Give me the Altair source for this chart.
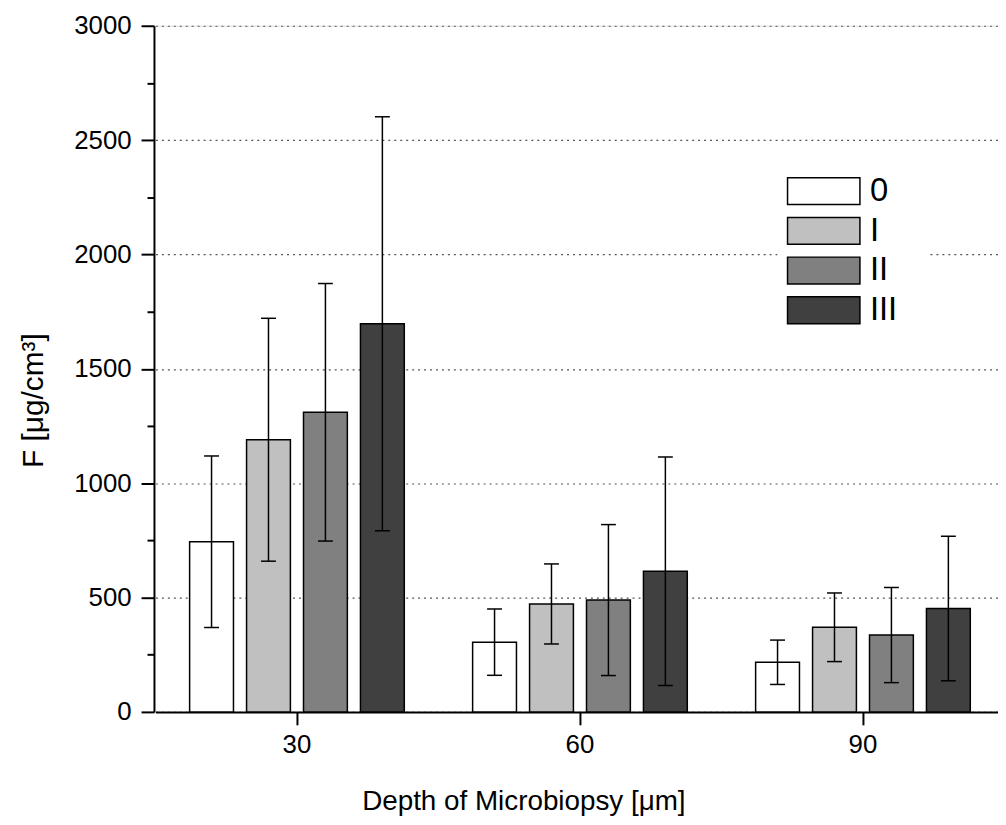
import altair as alt
import pandas as pd

depths = ["30", "60", "90"]
groups = ["0", "I", "II", "III"]
colors = ["#ffffff", "#c0c0c0", "#808080", "#404040"]

mean_0 = [744, 305, 217]
mean_I = [1190, 472, 370]
mean_II = [1310, 489, 336]
mean_III = [1697, 615, 452]

sd_0 = [375, 145, 97]
sd_I = [531, 175, 150]
sd_II = [563, 330, 208]
sd_III = [905, 500, 316]

y_ticks = list(range(0, 3001, 250))

means = [mean_0, mean_I, mean_II, mean_III]
sds = [sd_0, sd_I, sd_II, sd_III]
rows = []
for g, m, s in zip(groups, means, sds):
    for d, mv, sv in zip(depths, m, s):
        rows.append({"depth": d, "group": g, "mean": mv, "lo": mv - sv, "hi": mv + sv})
df = pd.DataFrame(rows)

FONT = "Liberation Sans"
minor = "datum.value % 500 != 0"

x_enc = alt.X(
    "depth:N",
    scale=alt.Scale(domain=depths, paddingInner=0, paddingOuter=0, range=[1.5, 856.5]),
    axis=alt.Axis(
        title="Depth of Microbiopsy [μm]",
        labelAngle=0,
        labelFontSize=26,
        labelFont=FONT,
        labelColor="black",
        labelPadding=7,
        tickSize=13,
        tickWidth=2,
        tickColor="black",
        domainColor="black",
        domainWidth=2,
        titleFontSize=28,
        titleFont=FONT,
        titleFontWeight="normal",
        titleColor="black",
        titleX=372,
        titleY=98,
        titleAlign="center",
        titleBaseline="alphabetic",
        grid=False,
    ),
)
xo_enc = alt.XOffset(
    "group:N", scale=alt.Scale(domain=groups, paddingInner=0.23, paddingOuter=0.6)
)

y_axis = alt.Axis(
    title="F [μg/cm³]",
    values=y_ticks,
    format="d",
    labelExpr="datum.value % 500 ? '' : datum.label",
    labelFontSize=26,
    labelFont=FONT,
    labelColor="black",
    labelPadding=10,
    tickSize={"condition": {"test": minor, "value": 7}, "value": 13},
    tickWidth=2,
    tickColor="black",
    domainColor="black",
    domainWidth=2,
    grid=True,
    gridDash=[2, 4],
    gridColor="#555555",
    gridWidth=1.2,
    gridOpacity={"condition": {"test": minor, "value": 0}, "value": 1},
    titleFontSize=30,
    titleFont=FONT,
    titleFontWeight="normal",
    titleColor="black",
    titleX=-112,
    titleY=377,
    titleAlign="center",
    titleBaseline="alphabetic",
)
y_scale = alt.Scale(domain=[0, 3000], nice=False)

base = alt.Chart(df)

bars = base.mark_bar(stroke="black", strokeWidth=1.5, opacity=1).encode(
    x=x_enc,
    xOffset=xo_enc,
    y=alt.Y("mean:Q", scale=y_scale, axis=y_axis),
    color=alt.Color(
        "group:N",
        scale=alt.Scale(domain=groups, range=colors),
        legend=alt.Legend(
            title=None,
            orient="none",
            legendX=628,
            legendY=120,
            symbolType="M-2.7,-1H2.7V1H-2.7Z",
            symbolSize=729,
            symbolStrokeColor="black",
            symbolStrokeWidth=1.5,
            symbolOpacity=1,
            labelFontSize=33,
            labelFont=FONT,
            labelColor="black",
            labelOffset=30,
            rowPadding=6,
            padding=30,
            fillColor="white",
        ),
    ),
)

rules = base.mark_rule(color="black", strokeWidth=1.5).encode(
    x=x_enc,
    xOffset=xo_enc,
    y=alt.Y("lo:Q", scale=y_scale, axis=y_axis),
    y2="hi:Q",
)
cap_lo = base.mark_tick(color="black", size=15, thickness=1.5, opacity=1).encode(
    x=x_enc, xOffset=xo_enc, y=alt.Y("lo:Q", scale=y_scale, axis=y_axis)
)
cap_hi = base.mark_tick(color="black", size=15, thickness=1.5, opacity=1).encode(
    x=x_enc, xOffset=xo_enc, y=alt.Y("hi:Q", scale=y_scale, axis=y_axis)
)

chart = (
    alt.layer(bars, rules, cap_lo, cap_hi)
    .properties(
        width=850,
        height=691,
        autosize="none",
        padding={"left": 147, "top": 15, "right": 0, "bottom": 110},
    )
    .configure_view(stroke=None)
    .configure(background="white")
)

chart.save("out.html", embed_options={"renderer": "svg", "actions": False})
